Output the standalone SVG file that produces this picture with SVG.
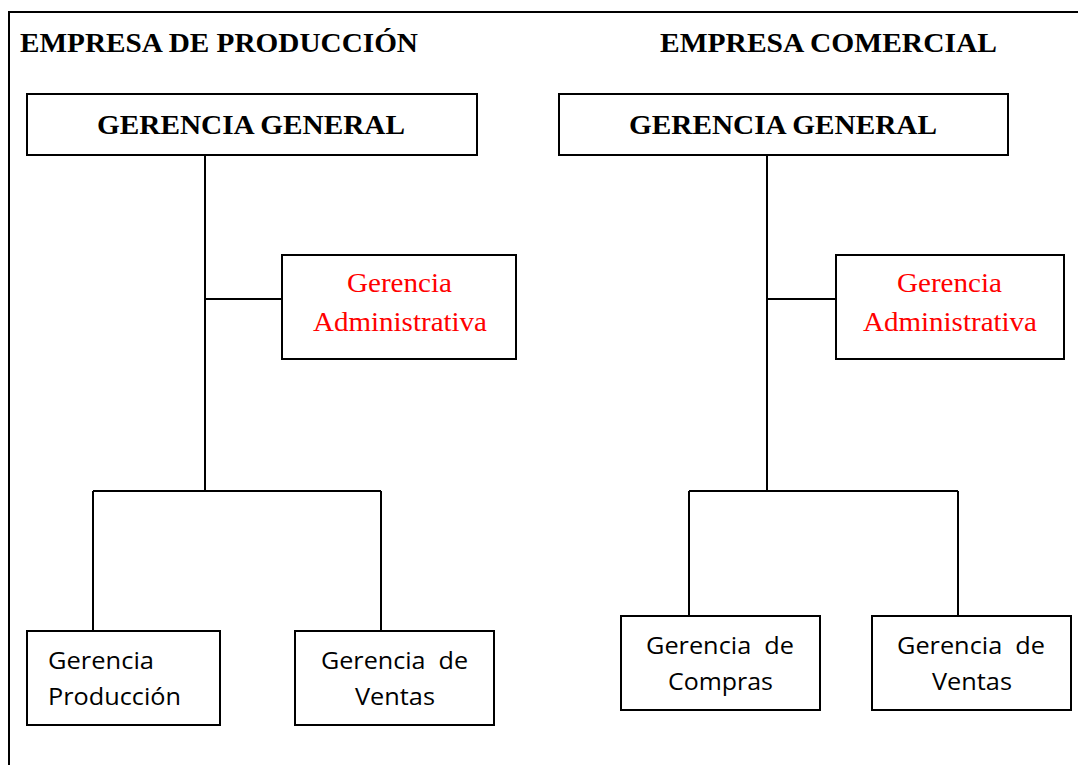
<svg xmlns="http://www.w3.org/2000/svg" width="1078" height="765" viewBox="0 0 1078 765">
<style>
.box{fill:#fff;stroke:#000;stroke-width:2}
.ln{stroke:#000;stroke-width:2;fill:none}
.title{font-family:"Liberation Serif","Times New Roman",serif;font-weight:bold;font-size:28px;fill:#000}
.red{font-family:"Liberation Serif","Times New Roman",serif;font-size:27px;fill:#ff0000;text-anchor:middle}
.sub{font-family:"Open Sans","Liberation Sans",sans-serif;font-size:23.5px;fill:#000}
</style>
<rect width="1078" height="765" fill="#fff"/>
<path class="ln" d="M9,765 V12 H1078"/>
<text class="title" x="20" y="52" textLength="398" lengthAdjust="spacingAndGlyphs">EMPRESA DE PRODUCCIÓN</text>
<text class="title" x="660" y="52" textLength="337" lengthAdjust="spacingAndGlyphs">EMPRESA COMERCIAL</text>
<g id="connectors">
<path class="ln" d="M205,155 V491 M205,299 H282 M93,491 H381 M93,491 V631 M381,491 V631"/>
<path class="ln" d="M767,155 V491 M767,299 H836 M689,491 H958 M689,491 V616 M958,491 V616"/>
</g>
<g id="gg1"><rect class="box" x="27" y="94" width="450" height="61"/><text class="title" x="97" y="134" textLength="308" lengthAdjust="spacingAndGlyphs">GERENCIA GENERAL</text></g>
<g id="gg2"><rect class="box" x="559" y="94" width="449" height="61"/><text class="title" x="629" y="134" textLength="308" lengthAdjust="spacingAndGlyphs">GERENCIA GENERAL</text></g>
<g id="adm1"><rect class="box" x="282" y="255" width="234" height="104"/><text class="red" x="399.5" y="292" textLength="105" lengthAdjust="spacingAndGlyphs">Gerencia</text><text class="red" x="400" y="331" textLength="174" lengthAdjust="spacingAndGlyphs">Administrativa</text></g>
<g id="adm2"><rect class="box" x="836" y="255" width="228" height="104"/><text class="red" x="949.5" y="292" textLength="105" lengthAdjust="spacingAndGlyphs">Gerencia</text><text class="red" x="950" y="331" textLength="174" lengthAdjust="spacingAndGlyphs">Administrativa</text></g>
<g id="prod"><rect class="box" x="27" y="631" width="193" height="94"/><text class="sub" x="48" y="669" textLength="106" lengthAdjust="spacingAndGlyphs">Gerencia</text><text class="sub" x="48" y="705" textLength="133" lengthAdjust="spacingAndGlyphs">Producción</text></g>
<g id="ventas1"><rect class="box" x="295" y="631" width="199" height="94"/><text class="sub" x="321" y="669" textLength="147" lengthAdjust="spacingAndGlyphs" xml:space="preserve">Gerencia  de</text><text class="sub" x="355" y="705" textLength="80" lengthAdjust="spacingAndGlyphs">Ventas</text></g>
<g id="compras"><rect class="box" x="621" y="616" width="199" height="94"/><text class="sub" x="646" y="654" textLength="148" lengthAdjust="spacingAndGlyphs" xml:space="preserve">Gerencia  de</text><text class="sub" x="668" y="690" textLength="105" lengthAdjust="spacingAndGlyphs">Compras</text></g>
<g id="ventas2"><rect class="box" x="872" y="616" width="199" height="94"/><text class="sub" x="897" y="654" textLength="148" lengthAdjust="spacingAndGlyphs" xml:space="preserve">Gerencia  de</text><text class="sub" x="932" y="690" textLength="80" lengthAdjust="spacingAndGlyphs">Ventas</text></g>
</svg>
